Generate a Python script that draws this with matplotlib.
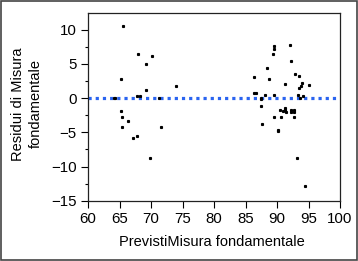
import matplotlib
matplotlib.use("Agg")
import matplotlib.pyplot as plt
from matplotlib.patches import Rectangle
from matplotlib.ticker import MultipleLocator

plt.rcParams['font.family'] = ['Liberation Sans', 'DejaVu Sans']

# predicted values (x) and residuals (y)
previsti = [65.5, 68.0, 70.2, 69.2, 65.2, 69.2, 74.0, 64.1, 64.3, 67.7, 68.3, 71.3,
            65.2, 65.4, 66.4, 65.4, 71.6, 67.2, 67.8, 69.8,
            92.0, 89.6, 89.6, 89.3, 92.2, 88.4, 86.4, 88.8, 92.9, 93.5, 91.2, 94.0,
            93.8, 95.0, 93.5, 86.4, 86.6, 88.1, 89.6, 93.4, 94.1, 87.4, 93.6,
            87.4, 87.4, 90.4, 91.2, 91.2, 91.4, 90.9, 92.2, 92.7, 92.2, 92.7,
            89.6, 90.6, 92.7, 87.6, 90.2, 90.2, 93.2, 94.4]
residui = [10.5, 6.5, 6.1, 5.0, 2.8, 1.2, 1.7, 0.0, 0.0, 0.3, 0.3, 0.05,
           -1.9, -2.7, -3.3, -4.2, -4.2, -5.8, -5.5, -8.8,
           7.7, 7.6, 7.2, 6.5, 5.4, 4.4, 3.0, 2.8, 3.5, 3.2, 2.1, 2.2,
           1.8, 1.9, 1.4, 0.8, 0.8, 0.4, 0.4, 0.4, 0.3, 0.0, 0.0,
           -0.15, -1.1, -1.7, -1.4, -1.7, -2.1, -1.9, -1.75, -1.75, -2.0, -2.0,
           -2.7, -2.7, -2.7, -3.8, -4.6, -4.8, -8.7, -12.8]

x_ticks = [60, 65, 70, 75, 80, 85, 90, 95, 100]
y_ticks = [-15, -10, -5, 0, 5, 10]

fig = plt.figure(figsize=(3.58, 2.61), dpi=100)
ax = fig.add_axes([88 / 358, 1 - 200.75 / 261, 252 / 358, 188 / 261])

ax.axhline(0, color='#2a64f0', lw=2.3, linestyle=(0, (1, 1.25)), zorder=1)
ax.plot(previsti, residui, 's', color='black', markersize=1.25, zorder=2)

ax.set_xlim(60, 100)
ax.set_ylim(-15, 12.45)
ax.set_xticks(x_ticks)
ax.set_yticks(y_ticks)
ax.yaxis.set_minor_locator(MultipleLocator(2.5))
ax.xaxis.set_minor_locator(MultipleLocator(5))
ax.tick_params(axis='both', which='major', direction='out', length=5, width=0.8,
               labelsize=10.8, pad=3)
ax.tick_params(axis='y', which='minor', direction='out', length=2.5, width=0.8)
ax.tick_params(axis='x', which='minor', length=0)
for s in ax.spines.values():
    s.set_linewidth(0.9)
    s.set_color('#222222')

fig.text(27 / 358, 1 - 104 / 261, 'Residui di Misura\nfondamentale', rotation=90,
         ha='center', va='center', multialignment='center', fontsize=10.5,
         linespacing=1.3)
fig.text(212 / 358, 1 - 242 / 261, 'PrevistiMisura fondamentale',
         ha='center', va='center', fontsize=10.5)

fig.patches.append(Rectangle((0.003, 0.004), 0.994, 0.992, transform=fig.transFigure,
                             fill=False, edgecolor='#444444', lw=1.2))

fig.savefig('out.png', dpi=100)
